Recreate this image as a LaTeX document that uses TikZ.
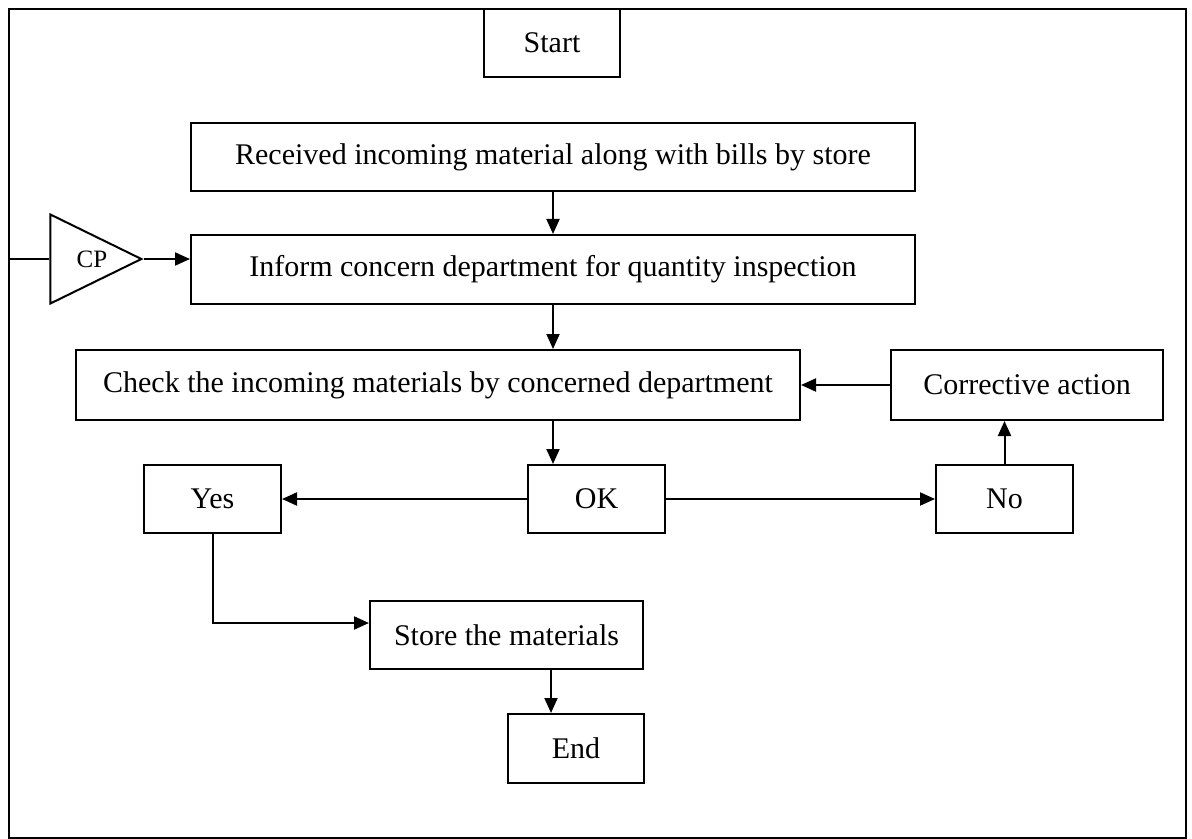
\documentclass[tikz,border=0pt]{standalone}
\usepackage{fontspec}
\setmainfont{Liberation Serif}
\usetikzlibrary{arrows.meta,shapes.geometric}
\begin{document}
\begin{tikzpicture}[x=0.5pt,y=-0.5pt,
  line width=1pt,
  box/.style={draw, rectangle, inner sep=0pt, minimum height=34pt,
              font=\fontsize{15}{18}\selectfont},
  arr/.style={-{Triangle[length=7.5pt,width=6.5pt]}},
  cpshape/.style={draw, isosceles triangle, isosceles triangle stretches,
              inner sep=0pt, minimum width=44.5pt, minimum height=45.5pt},
  cptext/.style={inner sep=0pt, font=\fontsize{12.5}{14}\selectfont}]
\useasboundingbox (0,0) rectangle (1192,839);
% outer frame
\draw (9,9) rectangle (1186,838);
\coordinate (fl) at (9,259);

% process boxes
\node[box, minimum width=68pt]     (start) at (552,43)    {Start};
\node[box, minimum width=362pt]    (rec)   at (553,157)   {Received incoming material along with bills by store};
\node[box, minimum width=362pt, minimum height=34.5pt] (inf) at (553,269.5) {Inform concern department for quantity inspection};
\node[box, minimum width=362pt, minimum height=35pt]   (chk) at (438,385)   {Check the incoming materials by concerned department};
\node[box, minimum width=136pt, minimum height=35pt]   (cor) at (1027,385)  {Corrective action};
\node[box, minimum width=68.5pt]   (yes)   at (212.5,499) {Yes};
\node[box, minimum width=68.5pt]   (ok)    at (596.5,499) {OK};
\node[box, minimum width=68.5pt]   (no)    at (1004.5,499) {No};
\node[box, minimum width=136.5pt]  (sto)   at (506.5,635) {Store the materials};
\node[box, minimum width=68pt, minimum height=34.5pt]  (end) at (576,748.5) {End};

% control point marker
\node[cpshape, anchor=apex] (cp) at (144,259) {};
\node[cptext] (cplabel) at (92,259) {CP};

% connectors
\draw (fl) -- (cp.west);
\draw[arr] (cp.apex) -- (cp.apex -| inf.west);
\draw[arr] (rec.south) -- (inf.north);
\draw[arr] (inf.south) -- (inf.south |- chk.north);
\draw[arr] (chk.south -| inf.south) -- (ok.north -| inf.south);
\draw[arr] (ok.west) -- (yes.east);
\draw[arr] (ok.east) -- (no.west);
\draw[arr] (no.north) -- (no.north |- cor.south);
\draw[arr] (cor.west) -- (chk.east);
\draw[arr] (yes.south) |- ([yshift=6pt]sto.west);
\draw[arr] ([xshift=22.25pt]sto.south) -- ([xshift=22.25pt]sto.south |- end.north);
\end{tikzpicture}
\end{document}
